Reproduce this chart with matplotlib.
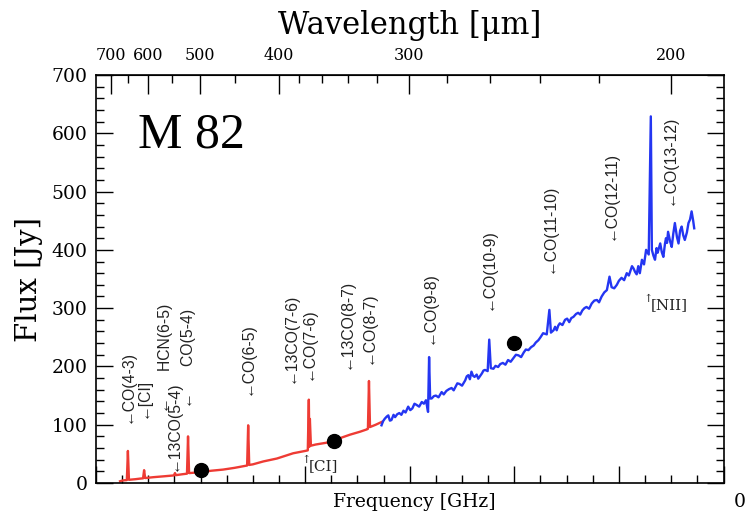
import numpy as np
import matplotlib
matplotlib.use("Agg")
import matplotlib.pyplot as plt
from matplotlib.ticker import MultipleLocator, FixedLocator, NullFormatter

# ── Daten ──────────────────────────────────────────────────────────────────

# roter Teil (SLW), Frequenz [GHz] / Fluss [Jy]
red_freq = [446, 452, 459, 461, 463, 475, 484, 490, 492, 494, 510, 530, 549, 551,
            553, 565, 574, 576, 578, 600, 620, 643, 665, 689, 691, 693, 700, 720,
            746, 777, 800, 805, 807, 808, 809, 811, 820, 840, 855, 870, 886, 905,
            918, 920, 922, 924, 935, 947]
red_flux = [3, 4.5, 5, 55, 5.5, 6.5, 7.5, 8, 22, 8.5, 10, 11.5, 13, 17,
            13.5, 15, 16, 80, 17, 18.5, 21, 23, 26, 30, 99, 31, 32, 37,
            42, 51, 55, 56, 143, 62, 110, 64, 66, 69, 72, 78, 83, 88,
            92, 93, 175, 96, 100, 105]

# blauer Teil (SSW), etwas verrauscht
blue_freq = [946, 949, 952, 956, 959, 962, 965, 969, 972, 976, 980, 984, 988, 992,
             997, 1001, 1005, 1009, 1013, 1018, 1023, 1027, 1031, 1035, 1037, 1039,
             1042, 1046, 1050, 1055, 1061, 1065, 1070, 1075, 1080, 1084, 1087, 1091,
             1095, 1100, 1106, 1109, 1112, 1115, 1118, 1121, 1124, 1128, 1131, 1135,
             1138, 1141, 1144, 1149, 1152, 1155, 1160, 1164, 1169, 1173, 1178, 1183,
             1188, 1193, 1198, 1203, 1208, 1213, 1218, 1222, 1227, 1232, 1237, 1241,
             1246, 1250, 1255, 1262, 1267, 1270, 1275, 1278, 1281, 1284, 1287, 1292,
             1297, 1301, 1305, 1309, 1313, 1318, 1322, 1326, 1330, 1334, 1338, 1343,
             1348, 1353, 1358, 1362, 1367, 1372, 1377, 1382, 1386, 1391, 1396, 1400,
             1405, 1410, 1415, 1419, 1422, 1425, 1428, 1431, 1434, 1437, 1440, 1444,
             1448, 1452, 1457, 1461, 1463, 1466, 1469, 1472, 1474, 1477, 1479, 1482,
             1485, 1488, 1490, 1492, 1494, 1498, 1501, 1504, 1507, 1511, 1514, 1517,
             1520, 1523, 1526, 1530, 1533, 1536, 1539, 1542, 1544]
blue_flux = [99, 106, 110, 114, 116, 107, 108, 117, 113, 118, 120, 117, 124, 121,
             131, 125, 128, 136, 134, 131, 139, 136, 142, 122, 216, 145,
             145, 149, 150, 147, 156, 152, 158, 161, 163, 159, 164, 171,
             170, 167, 176, 183, 185, 178, 191, 184, 182, 186, 179, 184,
             188, 193, 194, 192, 246, 197, 196, 201, 199, 204, 206, 203,
             211, 208, 214, 220, 219, 216, 224, 229, 228, 233, 236, 241,
             245, 250, 257, 255, 297, 258, 262, 268, 262, 270, 274, 271,
             280, 282, 276, 283, 285, 290, 292, 289, 296, 300, 302, 299,
             308, 313, 314, 310, 320, 327, 331, 354, 336, 334, 340, 347,
             352, 348, 360, 356, 364, 372, 368, 362, 358, 372, 360, 383,
             375, 400, 392, 629, 400, 390, 383, 403, 395, 405, 411, 396,
             388, 410, 420, 412, 431, 414, 405, 428, 446, 422, 411, 433,
             440, 425, 417, 430, 446, 452, 466, 450, 437]

# Photometrie-Punkte (250/350/500 µm)
phot_freq = [600, 855, 1199]
phot_flux = [22, 72, 240]

# Linien-Beschriftungen: (Frequenz, Fluss unten, Text)
line_labels = [
    (460, 103, "\u2190CO(4-3)"),
    (490.5, 111, "\u2190[CI]"),
    (548, 21, "\u219013CO(5-4)"),
    (533, 120, "\u2190      HCN(6-5)"),
    (576.5, 128, "\u2190      CO(5-4)"),
    (690, 151, "\u2190CO(6-5)"),
    (771, 171, "\u219013CO(7-6)"),
    (806, 176, "\u2190CO(7-6)"),
    (879, 196, "\u219013CO(8-7)"),
    (920.5, 205, "\u2190CO(8-7)"),
    (1037, 239, "\u2190CO(9-8)"),
    (1150, 297, "\u2190CO(10-9)"),
    (1267, 360, "\u2190CO(11-10)"),
    (1383, 417, "\u2190CO(12-11)"),
    (1496, 477, "\u2190CO(13-12)"),
]
up_labels = [(802, 29, "[CI]"), (1456, 305, "[NII]")]

wl_major = [700, 600, 500, 400, 300, 200]
wl_minor = [650, 550, 450, 380, 360, 340, 320, 280, 260, 240, 220]

C_UM_GHZ = 299792.458


def ghz_to_um(f):
    f = np.asarray(f, dtype=float)
    return C_UM_GHZ / np.where(f == 0, 1e-9, f)


def um_to_ghz(w):
    w = np.asarray(w, dtype=float)
    return C_UM_GHZ / np.where(w == 0, 1e-9, w)


# ── Plot ───────────────────────────────────────────────────────────────────

fig = plt.figure(figsize=(7.48, 5.11), dpi=100)
ax = fig.add_axes([96 / 748, 1 - 483 / 511, (723.5 - 96) / 748, (483 - 75) / 511])

ax.plot(red_freq, red_flux, color="#ee3b34", lw=1.7, zorder=2)
ax.plot(blue_freq, blue_flux, color="#2436f2", lw=1.7, zorder=2)
ax.plot(phot_freq, phot_flux, "o", color="black", ms=10, zorder=3)

ax.set_xlim(400, 1600)
ax.set_ylim(0, 700)

ax.xaxis.set_major_locator(MultipleLocator(200))
ax.xaxis.set_minor_locator(MultipleLocator(50))
ax.yaxis.set_major_locator(MultipleLocator(100))
ax.yaxis.set_minor_locator(MultipleLocator(20))
ax.tick_params(which="both", direction="in", left=True, right=True,
               bottom=True, top=False, labelbottom=False, width=1.0)
ax.tick_params(which="major", length=12)
ax.tick_params(which="minor", length=6)
ax.tick_params(axis="y", labelsize=13.5, pad=6)
for lbl in ax.get_yticklabels():
    lbl.set_family("DejaVu Serif")
for sp in ax.spines.values():
    sp.set_linewidth(1.2)

ax.set_ylabel("Flux [Jy]", family="DejaVu Serif", fontsize=21, labelpad=6)

# obere Achse in Wellenlänge
sec = ax.secondary_xaxis("top", functions=(ghz_to_um, um_to_ghz))
sec.xaxis.set_major_locator(FixedLocator(wl_major))
sec.xaxis.set_minor_locator(FixedLocator(wl_minor))
sec.xaxis.set_minor_formatter(NullFormatter())
sec.tick_params(which="both", direction="in", width=1.0, labelsize=11.5, pad=8)
sec.tick_params(which="major", length=14)
sec.tick_params(which="minor", length=6)
for lbl in sec.get_xticklabels():
    lbl.set_family("DejaVu Serif")
sec.set_xlabel("Wavelength [\u03bcm]", family="DejaVu Serif", fontsize=22, labelpad=9)

# Linienbeschriftungen
for f, y, txt in line_labels:
    ax.text(f, y, txt, rotation=90, ha="center", va="bottom", fontsize=11.3,
            family=["Liberation Sans", "DejaVu Sans"], color="#222222")
for f, y, txt in up_labels:
    ax.text(f, y + 2, "\u2191", ha="center", va="bottom", fontsize=8,
            family=["DejaVu Serif"], color="#222222")
    ax.text(f + 4, y, txt, ha="left", va="center", fontsize=11,
            family="DejaVu Serif", color="#222222")

ax.text(0.067, 0.853, "M 82", transform=ax.transAxes, fontsize=36,
        family="Liberation Serif", va="center", ha="left")

fig.text(414 / 748, 1 - 502 / 511, "Frequency [GHz]", family="DejaVu Serif",
         fontsize=13.5, ha="center", va="center")
fig.text(740 / 748, 1 - 502 / 511, "0", family="DejaVu Serif",
         fontsize=13.5, ha="center", va="center")

fig.savefig("out.png", dpi=100)
